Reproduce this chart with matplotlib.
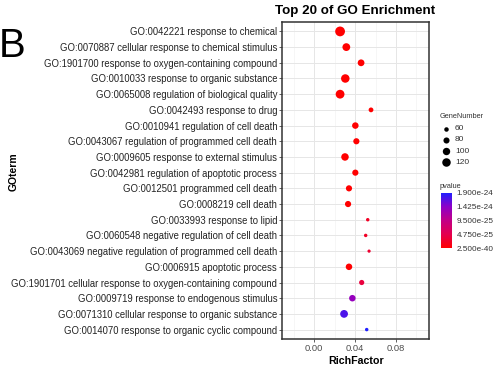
import matplotlib
matplotlib.use("Agg")
import matplotlib.pyplot as plt
from matplotlib.colors import LinearSegmentedColormap, Normalize
from matplotlib.cm import ScalarMappable

plt.rcParams["font.family"] = ["Liberation Sans", "DejaVu Sans"]

# GO terms, top to bottom as shown in the chart
go_terms = [
    "GO:0042221 response to chemical",
    "GO:0070887 cellular response to chemical stimulus",
    "GO:1901700 response to oxygen-containing compound",
    "GO:0010033 response to organic substance",
    "GO:0065008 regulation of biological quality",
    "GO:0042493 response to drug",
    "GO:0010941 regulation of cell death",
    "GO:0043067 regulation of programmed cell death",
    "GO:0009605 response to external stimulus",
    "GO:0042981 regulation of apoptotic process",
    "GO:0012501 programmed cell death",
    "GO:0008219 cell death",
    "GO:0033993 response to lipid",
    "GO:0060548 negative regulation of cell death",
    "GO:0043069 negative regulation of programmed cell death",
    "GO:0006915 apoptotic process",
    "GO:1901701 cellular response to oxygen-containing compound",
    "GO:0009719 response to endogenous stimulus",
    "GO:0071310 cellular response to organic substance",
    "GO:0014070 response to organic cyclic compound",
]

rich_factor = [0.0254, 0.0315, 0.0459, 0.0305, 0.0254, 0.0556, 0.0403, 0.0413,
               0.0302, 0.0403, 0.0341, 0.0332, 0.0524, 0.0504, 0.0537, 0.0341,
               0.0465, 0.0374, 0.0293, 0.0514]

gene_number = [147, 107, 90, 120, 126, 63, 86, 81, 102, 81,
               81, 81, 50, 50, 48, 86, 68, 86, 107, 50]

pvalue = [2.5e-40, 1e-38, 1e-35, 1e-36, 1e-33, 1e-31, 1e-30, 1e-30, 1e-30, 1e-29,
          1e-29, 1e-29, 2.3e-25, 2.3e-25, 2.9e-25, 1e-26, 3.8e-25, 1.35e-24,
          1.7e-24, 1.9e-24]

size_breaks = [60, 80, 100, 120]
pvalue_breaks = [2.5e-40, 4.75e-25, 9.5e-25, 1.425e-24, 1.9e-24]
pvalue_labels = ["2.500e-40", "4.750e-25", "9.500e-25", "1.425e-24", "1.900e-24"]
x_ticks = [0.00, 0.04, 0.08]

W, H = 500, 371


def fig_rect(x0, y0, x1, y1):
    # pixel box (top-left origin) -> figure fraction rect
    return [x0 / W, 1 - y1 / H, (x1 - x0) / W, (y1 - y0) / H]


def point_size(g):
    diam_px = (0.93 * g - 30.8) ** 0.5 - 0.5
    return (diam_px * 0.72) ** 2


def main():
    cmap = LinearSegmentedColormap.from_list(
        "pv", ["#ff0000", "#e4004e", "#c20086", "#8d00c8", "#2020ff"])
    norm = Normalize(vmin=min(pvalue), vmax=max(pvalue))

    fig = plt.figure(figsize=(5, 3.71), dpi=100)
    ax = fig.add_axes(fig_rect(282.3, 22, 429.3, 339))

    y_pos = list(range(len(go_terms), 0, -1))
    ax.scatter(rich_factor, y_pos, s=[point_size(g) for g in gene_number],
               c=pvalue, cmap=cmap, norm=norm, linewidths=0, zorder=3)

    ax.set_xlim(-0.031, 0.1125)
    ax.set_ylim(0.4, len(go_terms) + 0.6)
    ax.set_yticks(y_pos)
    ax.set_yticklabels(go_terms, fontsize=6.85, color="#222222")
    ax.set_xticks(x_ticks)
    ax.set_xticklabels(["%.2f" % v for v in x_ticks], fontsize=6.7, color="#4d4d4d")
    ax.set_xticks([-0.02, 0.02, 0.06, 0.10], minor=True)
    ax.tick_params(axis="both", which="major", length=2.2, width=0.6,
                   color="#444444", pad=1.5)
    ax.tick_params(axis="x", which="minor", length=0)

    ax.grid(True, which="major", color="#e6e6e6", linewidth=0.7, zorder=0)
    ax.grid(True, which="minor", axis="x", color="#f0f0f0", linewidth=0.4, zorder=0)
    ax.set_axisbelow(True)
    for sp in ax.spines.values():
        sp.set_color("#333333")
        sp.set_linewidth(1.1)

    ax.set_xlabel("RichFactor", fontsize=7.7, fontweight="bold", labelpad=2)
    fig.text(14 / W, 1 - 172 / H, "GOterm", rotation=90, fontsize=7.5,
             fontweight="bold", ha="center", va="center")
    fig.text(355 / W, 1 - 11 / H, "Top 20 of GO Enrichment", fontsize=9.6,
             fontweight="bold", ha="center", va="center")
    fig.text(-1 / W, 1 - 46 / H, "B", fontsize=29, ha="left", va="center")

    # size legend
    fig.text(440 / W, 1 - 116 / H, "GeneNumber", fontsize=5.3, color="#333333",
             ha="left", va="center")
    lax = fig.add_axes(fig_rect(440, 123, 470, 168))
    lax.set_xlim(0, 1)
    lax.set_ylim(len(size_breaks) - 0.5, -0.5)
    lax.axis("off")
    for i, g in enumerate(size_breaks):
        lax.scatter([0.2], [i], s=point_size(g), color="black", linewidths=0)
        lax.text(0.5, i, str(g), fontsize=6, color="#333333", va="center")

    # colour legend
    fig.text(440 / W, 1 - 187 / H, "pvalue", fontsize=5.3, color="#333333",
             ha="left", va="center")
    cax = fig.add_axes(fig_rect(441, 192.7, 451.7, 248.3))
    sm = ScalarMappable(norm=norm, cmap=cmap)
    cb = fig.colorbar(sm, cax=cax, ticks=pvalue_breaks)
    cb.ax.set_yticklabels(pvalue_labels, fontsize=5.9, color="#333333")
    cb.outline.set_visible(False)
    cb.ax.tick_params(length=2, color="white", pad=1.5)

    fig.savefig("out.png", dpi=100)
    plt.close(fig)


if __name__ == "__main__":
    main()
